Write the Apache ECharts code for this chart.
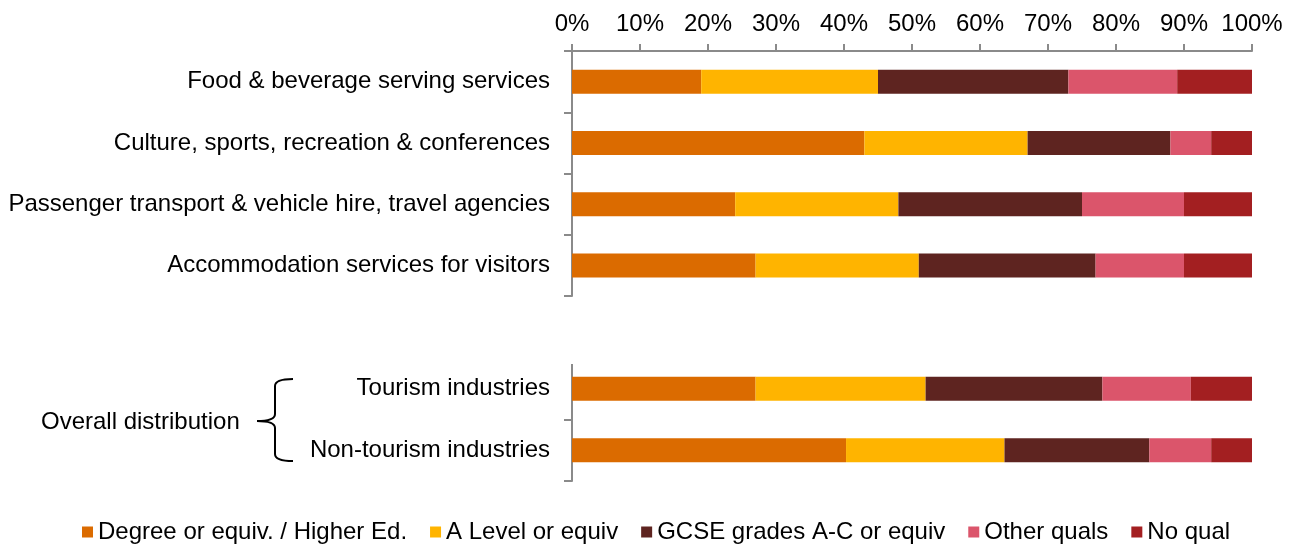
<!DOCTYPE html>
<html>
<head>
<meta charset="utf-8">
<title>Highest qualification by industry</title>
<script src="https://cdn.jsdelivr.net/npm/echarts@6/dist/echarts.min.js"></script>
<style>
  html, body { margin: 0; padding: 0; background: #fff; }
  #chart { width: 1293px; height: 545px; }
</style>
</head>
<body>
<div id="chart"></div>
<script>
// Sector breakdown (upper block)
const sectorCategories = [
  'Food & beverage serving services',
  'Culture, sports, recreation & conferences',
  'Passenger transport & vehicle hire, travel agencies',
  'Accommodation services for visitors'
];
// Overall distribution (lower block)
const overallCategories = ['Tourism industries', 'Non-tourism industries'];

const seriesNames = [
  'Degree or equiv. / Higher Ed.',
  'A Level or equiv',
  'GCSE grades A-C or equiv',
  'Other quals',
  'No qual'
];
const seriesColors = ['#DB6B00', '#FFB400', '#5E2420', '#DB556B', '#A31F21'];

// Percent shares, one array per qualification level
const degreeSector  = [19, 43, 24, 27];
const aLevelSector  = [26, 24, 24, 24];
const gcseSector    = [28, 21, 27, 26];
const otherSector   = [16, 6, 15, 13];
const noQualSector  = [11, 6, 10, 10];

const degreeOverall = [27, 40.3];
const aLevelOverall = [25, 23.3];
const gcseOverall   = [26, 21.3];
const otherOverall  = [13, 9.1];
const noQualOverall = [9, 6.0];

const xTicks = { min: 0, max: 100, interval: 10 };

const sectorValues  = [degreeSector, aLevelSector, gcseSector, otherSector, noQualSector];
const overallValues = [degreeOverall, aLevelOverall, gcseOverall, otherOverall, noQualOverall];

const FONT = 'Liberation Sans, Arial, sans-serif';
const AXIS_GREY = '#8a8a8a';

// Plot area layout
const plotLeft = 572, plotRight = 41;
const grid1Top = 51, grid1Height = 245;
const grid2Top = 358, grid2Height = 123;
const lowerAxisStart = 365;

const chart = echarts.init(document.getElementById('chart'), null, { renderer: 'canvas' });

const series = [];
seriesNames.forEach((name, i) => {
  series.push({
    name, type: 'bar', stack: 'sector', xAxisIndex: 0, yAxisIndex: 0,
    barWidth: 24, itemStyle: { color: seriesColors[i] },
    data: sectorValues[i]
  });
  series.push({
    name, type: 'bar', stack: 'overall', xAxisIndex: 1, yAxisIndex: 1,
    barWidth: 24, itemStyle: { color: seriesColors[i] },
    data: overallValues[i]
  });
});

const yAxisCommon = {
  type: 'category',
  inverse: true,
  axisLine: { show: true, lineStyle: { color: AXIS_GREY, width: 2 } },
  axisTick: { show: true, length: 8, lineStyle: { color: AXIS_GREY, width: 2 } },
  axisLabel: { color: '#000', fontSize: 24, fontFamily: FONT, margin: 22, padding: [6, 0, 0, 0] },
  splitLine: { show: false }
};

// Curly brace grouping the two overall rows
const braceStroke = { stroke: '#000', lineWidth: 2, fill: null };
const bx = 275, bTop = 379, bMid = 421, bBot = 461, bTip = 257, bArm = 293;
const brace = [
  { type: 'bezierCurve', shape: { x1: bArm, y1: bTop, x2: bx, y2: bTop + 7, cpx1: bx, cpy1: bTop } },
  { type: 'line', shape: { x1: bx, y1: bTop + 7, x2: bx, y2: bMid - 7 } },
  { type: 'bezierCurve', shape: { x1: bx, y1: bMid - 7, x2: bTip, y2: bMid, cpx1: bx, cpy1: bMid } },
  { type: 'bezierCurve', shape: { x1: bTip, y1: bMid, x2: bx, y2: bMid + 7, cpx1: bx, cpy1: bMid } },
  { type: 'line', shape: { x1: bx, y1: bMid + 7, x2: bx, y2: bBot - 7 } },
  { type: 'bezierCurve', shape: { x1: bx, y1: bBot - 7, x2: bArm, y2: bBot, cpx1: bx, cpy1: bBot } }
].map(el => Object.assign(el, { z: 100, style: braceStroke }));

chart.setOption({
  animation: false,
  backgroundColor: '#fff',
  textStyle: { fontFamily: FONT },
  grid: [
    { left: plotLeft, right: plotRight, top: grid1Top, height: grid1Height },
    { left: plotLeft, right: plotRight, top: grid2Top, height: grid2Height }
  ],
  xAxis: [
    {
      type: 'value', gridIndex: 0, position: 'top',
      min: xTicks.min, max: xTicks.max, interval: xTicks.interval,
      axisLine: { show: true, lineStyle: { color: AXIS_GREY, width: 2 } },
      axisTick: { show: true, length: 7, lineStyle: { color: AXIS_GREY, width: 2 } },
      axisLabel: { color: '#000', fontSize: 24, fontFamily: FONT, margin: 15, formatter: '{value}%' },
      splitLine: { show: false }
    },
    {
      type: 'value', gridIndex: 1, show: false,
      min: xTicks.min, max: xTicks.max, interval: xTicks.interval
    }
  ],
  yAxis: [
    Object.assign({ gridIndex: 0, data: sectorCategories }, yAxisCommon),
    Object.assign({ gridIndex: 1, data: overallCategories }, yAxisCommon)
  ],
  legend: {
    data: seriesNames,
    left: 77,
    top: 515,
    itemWidth: 11,
    itemHeight: 11,
    itemGap: 23,
    icon: 'rect',
    textStyle: { color: '#000', fontSize: 24, fontFamily: FONT }
  },
  graphic: [
    // the lower block's axis line begins a little below its first band
    {
      type: 'rect', z: 100,
      shape: { x: plotLeft - 12, y: grid2Top - 3, width: 15, height: lowerAxisStart - grid2Top + 2 },
      style: { fill: '#fff' }
    },
    ...brace,
    {
      type: 'text', z: 100, left: 41, top: 410,
      style: { text: 'Overall distribution', fill: '#000', font: '24px ' + FONT }
    }
  ],
  series
});
</script>
</body>
</html>
